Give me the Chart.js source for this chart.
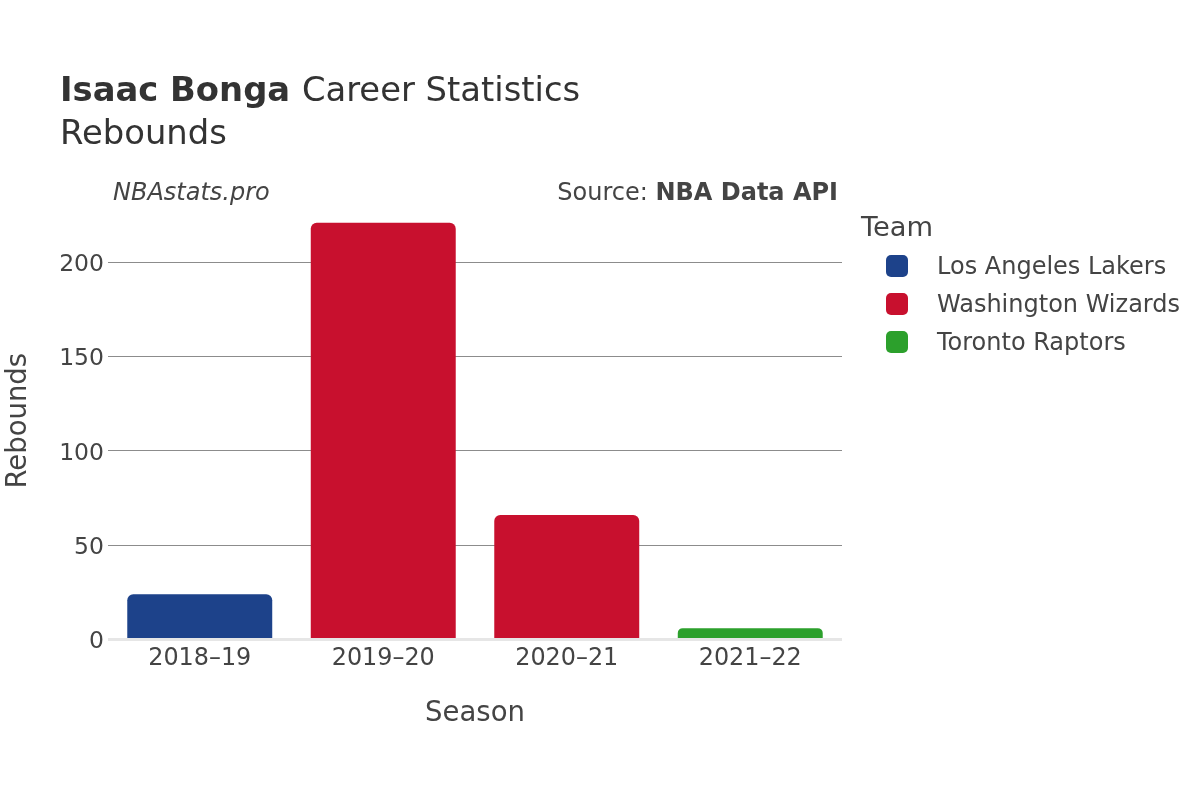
<!DOCTYPE html>
<html>
<head>
<meta charset="utf-8">
<title>Isaac Bonga Career Statistics - Rebounds</title>
<script src="https://cdn.jsdelivr.net/npm/chart.js@4.4.1/dist/chart.umd.min.js"></script>
<style>
    html, body { margin: 0; padding: 0; background: #fff; }
    #wrap { width: 1200px; height: 800px; }
</style>
</head>
<body>
<div id="wrap"><canvas id="reb-chart" width="1200" height="800"></canvas></div>
<script>
const seasons = ['2018–19', '2019–20', '2020–21', '2021–22'];
const rebounds = [24, 221, 66, 6];
const seasonTeam = ['Los Angeles Lakers', 'Washington Wizards', 'Washington Wizards', 'Toronto Raptors'];
const teams = ['Los Angeles Lakers', 'Washington Wizards', 'Toronto Raptors'];
const teamColors = ['#1d428a', '#c8102e', '#2ca02c'];
const yTicks = [0, 50, 100, 150, 200];

const FONT = 'DejaVu Sans';
const TEXT = '#444';

// titles, watermark, source and team legend drawn onto the canvas
const decorations = {
    id: 'decorations',
    afterDraw(chart) {
        const ctx = chart.ctx;
        ctx.save();
        ctx.textBaseline = 'alphabetic';
        ctx.textAlign = 'left';

        ctx.fillStyle = '#333';
        ctx.font = 'bold 33.8px "' + FONT + '"';
        ctx.fillText('Isaac Bonga', 60, 101);
        const w = ctx.measureText('Isaac Bonga ').width;
        ctx.font = '33.8px "' + FONT + '"';
        ctx.fillText('Career Statistics', 60 + w, 101);
        ctx.fillText('Rebounds', 60, 144);

        ctx.fillStyle = TEXT;
        ctx.font = 'italic 24px "' + FONT + '"';
        ctx.fillText('NBAstats.pro', 113, 200);

        ctx.textAlign = 'right';
        ctx.font = 'bold 24px "' + FONT + '"';
        ctx.fillText('NBA Data API', 838, 200);
        const bw = ctx.measureText('NBA Data API').width;
        ctx.font = '24px "' + FONT + '"';
        ctx.fillText('Source: ', 838 - bw, 200);

        // legend
        ctx.textAlign = 'left';
        ctx.font = '27.3px "' + FONT + '"';
        ctx.fillText('Team', 861, 236);
        ctx.font = '24px "' + FONT + '"';
        chart.data.datasets.forEach((ds, i) => {
            const cy = 266 + i * 38;
            ctx.fillStyle = ds.backgroundColor;
            ctx.beginPath();
            ctx.roundRect(886, cy - 11, 22, 22, 5);
            ctx.fill();
            ctx.fillStyle = TEXT;
            ctx.fillText(ds.label, 937, cy + 8);
        });
        ctx.restore();
    }
};

document.addEventListener('DOMContentLoaded', () => {
    const ctx = document.getElementById('reb-chart');
    new Chart(ctx, {
        type: 'bar',
        data: {
            labels: seasons,
            datasets: teams.map((team, t) => ({
                label: team,
                data: rebounds.map((v, i) => seasonTeam[i] === team ? v : null),
                backgroundColor: teamColors[t],
                borderRadius: { topLeft: 6, topRight: 6, bottomLeft: 0, bottomRight: 0 },
                borderSkipped: 'start',
                categoryPercentage: 1,
                barPercentage: 0.79
            }))
        },
        plugins: [decorations],
        options: {
            responsive: false,
            animation: false,
            devicePixelRatio: 1,
            layout: {
                padding: { left: 0, right: 358, top: 202, bottom: 60.5 }
            },
            scales: {
                x: {
                    stacked: true,
                    grid: { display: false },
                    border: { display: false },
                    ticks: {
                        color: TEXT,
                        padding: -3,
                        font: { family: FONT, size: 23.9 }
                    },
                    title: {
                        display: true,
                        text: 'Season',
                        color: TEXT,
                        padding: { top: 0, bottom: 9.5 },
                        font: { family: FONT, size: 27.5 }
                    },
                    afterFit(scale) { scale.height = 100; }
                },
                y: {
                    stacked: true,
                    min: 0,
                    max: 232,
                    afterBuildTicks(scale) {
                        scale.ticks = yTicks.map(v => ({ value: v }));
                    },
                    grid: {
                        drawTicks: false,
                        color: c => c.tick && c.tick.value === 0 ? '#e6e6e6' : '#8c8c8c',
                        lineWidth: c => c.tick && c.tick.value === 0 ? 3 : 1
                    },
                    border: { display: false },
                    ticks: {
                        color: TEXT,
                        padding: 4,
                        labelOffset: 2.5,
                        font: { family: FONT, size: 23.5 }
                    },
                    title: {
                        display: true,
                        text: 'Rebounds',
                        color: TEXT,
                        padding: { top: 2, bottom: 0 },
                        font: { family: FONT, size: 27.5 }
                    },
                    afterFit(scale) { scale.width = 108; }
                }
            },
            plugins: {
                legend: { display: false },
                tooltip: { enabled: true }
            }
        }
    });
});
</script>
</body>
</html>
